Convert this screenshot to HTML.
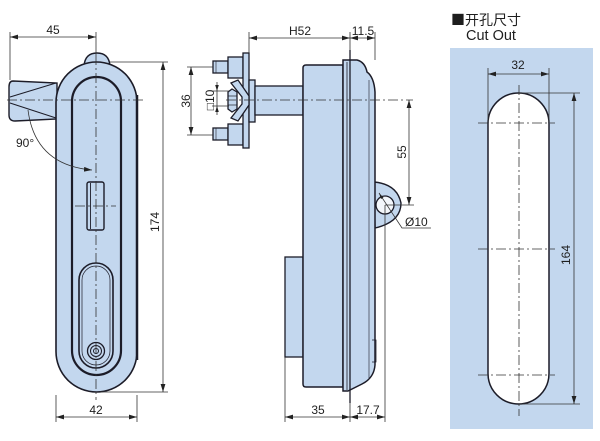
<!DOCTYPE html>
<html><head><meta charset="utf-8"><style>
html,body{margin:0;padding:0;background:#fff;}
svg{display:block;}
text{font-family:"Liberation Sans","Noto Sans CJK SC",sans-serif;fill:#1e1e1e;}
</style></head><body>
<svg width="600" height="441" viewBox="0 0 600 441" xmlns="http://www.w3.org/2000/svg">
<defs>
<marker id="a" markerUnits="userSpaceOnUse" markerWidth="8" markerHeight="6" refX="8" refY="3" orient="auto-start-reverse"><path d="M0,0.6 L8,3 L0,5.4 Z" fill="#222"/></marker>
</defs>

<!-- ========== LEFT VIEW ========== -->
<g stroke="#1c1c28" fill="#c3d7ee">
  <path d="M13,81 L57,83 L57,119 L15,121 Q9,121 9,115 L9,87 Q9,81 13,81 Z" stroke-width="1.4"/>
  <line x1="10" y1="97" x2="56" y2="83" stroke-width="1"/>
  <line x1="10" y1="103" x2="56" y2="118" stroke-width="1"/>
  <path d="M84,66 Q85,53 97,53 Q109,53 110,66 Z" stroke-width="1.4"/>
  <rect x="56" y="62" width="81" height="330" rx="40.5" stroke-width="1.6"/>
  <rect x="72" y="77" width="49" height="298" rx="24.5" stroke-width="2.2"/>
  <rect x="79" y="263" width="34" height="105" rx="17" stroke-width="1.6"/>
  <rect x="82" y="266" width="28" height="99" rx="14" stroke-width="0.7" fill="none"/>
  <rect x="87" y="182" width="17" height="48" rx="2" stroke-width="1.4"/>
  <line x1="90.5" y1="183" x2="90.5" y2="229" stroke-width="0.9"/>
  <circle cx="96" cy="351" r="8.5" stroke-width="1.3"/>
  <circle cx="96" cy="351" r="5.5" stroke-width="1"/>
  <circle cx="96" cy="351" r="2.5" stroke-width="1"/>
</g>
<path d="M137,95 L137,360" stroke="#1c1c28" stroke-width="2.5" fill="none"/>
<g stroke="#333" stroke-width="0.8" fill="none" stroke-dasharray="10 3 2 3">
  <line x1="96" y1="55" x2="96" y2="400"/>
  <line x1="7" y1="100" x2="143" y2="100"/>
  <line x1="75" y1="206" x2="116" y2="206"/>
</g>
<g stroke="#333" stroke-width="0.8" fill="none">
  <line x1="10" y1="32" x2="10" y2="80"/>
  <line x1="96" y1="32" x2="96" y2="55"/>
  <line x1="10" y1="37" x2="96" y2="37" marker-start="url(#a)" marker-end="url(#a)"/>
  <line x1="110" y1="62" x2="168" y2="62"/>
  <line x1="100" y1="392" x2="168" y2="392"/>
  <line x1="163" y1="62" x2="163" y2="392" marker-start="url(#a)" marker-end="url(#a)"/>
  <line x1="56" y1="395" x2="56" y2="422"/>
  <line x1="137" y1="395" x2="137" y2="422"/>
  <line x1="56" y1="417" x2="137" y2="417" marker-start="url(#a)" marker-end="url(#a)"/>
  <path d="M28,110 Q35,165 92,170" marker-end="url(#a)"/>
</g>
<text x="53" y="34" font-size="12" text-anchor="middle">45</text>
<text x="96" y="414" font-size="12" text-anchor="middle">42</text>
<text transform="translate(159,222) rotate(-90)" font-size="12" text-anchor="middle">174</text>
<text x="16" y="147" font-size="12">90°</text>

<!-- ========== MIDDLE VIEW ========== -->
<g stroke="#1c1c28" fill="#c3d7ee" stroke-width="1.3">
  <rect x="213" y="61" width="15" height="12"/>
  <rect x="228" y="57" width="15" height="21"/>
  <rect x="213" y="128" width="15" height="12"/>
  <rect x="228" y="124" width="15" height="21"/>
  <rect x="243" y="53" width="6" height="95"/>
  <rect x="249" y="80" width="6" height="42"/>
  <rect x="255" y="86" width="48" height="29"/>
  <path d="M228,92 L232,89 L237,92 L237,109 L232,112 L228,109 Z"/>
  <path d="M231,83 L238,80 L249,96 L249,105 L238,121 L231,118 L242,104 L242,97 Z"/>
  <rect x="285" y="257" width="18" height="100"/>
  <path d="M303,68 Q303,65 306,65 L343,65 L343,387 L306,387 Q303,387 303,384 Z" stroke-width="1.5"/>
  <path d="M374,182 Q397,184 401,203 Q401,222 375,228 Z" stroke-width="1.4"/>
  <path d="M343,60 L357,60 Q365,62 367,72 Q374,77 375,92 L375,365 Q374,378 362,384 L348,391 L343,391 Z" stroke-width="1.5"/>
  <circle cx="385" cy="205" r="9" fill="#f4f7fb" stroke-width="1.3"/>
</g>
<g stroke="#1c1c28" fill="none">
  <line x1="350" y1="50" x2="350" y2="403" stroke-width="1.3"/>
  <line x1="347" y1="62" x2="347" y2="390" stroke-width="0.8"/>
  <line x1="369" y1="80" x2="369" y2="378" stroke-width="0.6"/>
  <path d="M372,340 L376,340 L376,362 L372,362" stroke-width="0.8"/>
  <line x1="228" y1="96" x2="237" y2="96" stroke-width="0.7"/>
  <line x1="228" y1="105" x2="237" y2="105" stroke-width="0.7"/>
  <line x1="216" y1="61" x2="216" y2="73" stroke-width="0.6"/>
  <line x1="216" y1="128" x2="216" y2="140" stroke-width="0.6"/>
</g>
<g stroke="#333" stroke-width="0.8" fill="none" stroke-dasharray="10 3 2 3">
  <line x1="226" y1="100" x2="413" y2="100"/>
</g>
<g stroke="#333" stroke-width="0.8" fill="none">
  <line x1="249" y1="32" x2="249" y2="53"/>
  <line x1="350" y1="32" x2="350" y2="50"/>
  <line x1="375" y1="32" x2="375" y2="60"/>
  <line x1="249" y1="38" x2="350" y2="38" marker-start="url(#a)" marker-end="url(#a)"/>
  <line x1="350" y1="38" x2="375" y2="38" marker-start="url(#a)" marker-end="url(#a)"/>
  <line x1="187" y1="67" x2="213" y2="67"/>
  <line x1="187" y1="135" x2="213" y2="135"/>
  <line x1="191" y1="67" x2="191" y2="135" marker-start="url(#a)" marker-end="url(#a)"/>
  <line x1="212" y1="91" x2="229" y2="91"/>
  <line x1="212" y1="106" x2="229" y2="106"/>
  <line x1="217" y1="82" x2="217" y2="115"/>
  <line x1="385" y1="205" x2="414" y2="205"/>
  <line x1="409" y1="100" x2="409" y2="205" marker-start="url(#a)" marker-end="url(#a)"/>
  <path d="M379,193 L402,228 L431,228" />
  <line x1="285" y1="357" x2="285" y2="422"/>
  <line x1="350" y1="403" x2="350" y2="422"/>
  <line x1="385" y1="205" x2="385" y2="422"/>
  <line x1="285" y1="417" x2="350" y2="417" marker-start="url(#a)" marker-end="url(#a)"/>
  <line x1="350" y1="417" x2="385" y2="417" marker-start="url(#a)" marker-end="url(#a)"/>
</g>
<path d="M217,91 L215.2,85 L218.8,85 Z M217,106 L215.2,112 L218.8,112 Z M379,193 L383.5,197.5 L381,199 Z" fill="#222"/>
<text x="300" y="35" font-size="12" text-anchor="middle">H52</text>
<text x="363" y="35" font-size="12" text-anchor="middle">11.5</text>
<text x="318" y="414" font-size="12" text-anchor="middle">35</text>
<text x="368" y="414" font-size="12" text-anchor="middle">17.7</text>
<text transform="translate(190,101) rotate(-90)" font-size="12" text-anchor="middle">36</text>
<text transform="translate(214,100) rotate(-90)" font-size="12" text-anchor="middle">□10</text>
<text transform="translate(406,152) rotate(-90)" font-size="12" text-anchor="middle">55</text>
<text x="405" y="226" font-size="12">Ø10</text>

<!-- ========== RIGHT: CUT OUT ========== -->
<text x="451" y="25" font-size="14" style="font-family:'Noto Sans CJK SC','WenQuanYi Zen Hei',sans-serif">■开孔尺寸</text>
<text x="466" y="40" font-size="14.5">Cut Out</text>
<rect x="450" y="48" width="143" height="381" fill="#c3d7ee"/>
<rect x="488" y="93" width="61" height="311" rx="30.5" fill="#fff" stroke="#1c1c28" stroke-width="1.5"/>
<g stroke="#333" stroke-width="0.8" fill="none" stroke-dasharray="10 3 2 3">
  <line x1="519" y1="85" x2="519" y2="416"/>
  <line x1="478" y1="123" x2="555" y2="123"/>
  <line x1="478" y1="249" x2="555" y2="249"/>
  <line x1="478" y1="375" x2="555" y2="375"/>
</g>
<g stroke="#333" stroke-width="0.8" fill="none">
  <line x1="488" y1="68" x2="488" y2="122"/>
  <line x1="549" y1="68" x2="549" y2="122"/>
  <line x1="488" y1="74" x2="549" y2="74" marker-start="url(#a)" marker-end="url(#a)"/>
  <line x1="519" y1="93" x2="580" y2="93"/>
  <line x1="519" y1="404" x2="580" y2="404"/>
  <line x1="574" y1="93" x2="574" y2="404" marker-start="url(#a)" marker-end="url(#a)"/>
</g>
<text x="518" y="69" font-size="12" text-anchor="middle">32</text>
<text transform="translate(570,255) rotate(-90)" font-size="12" text-anchor="middle">164</text>
</svg>
</body></html>
